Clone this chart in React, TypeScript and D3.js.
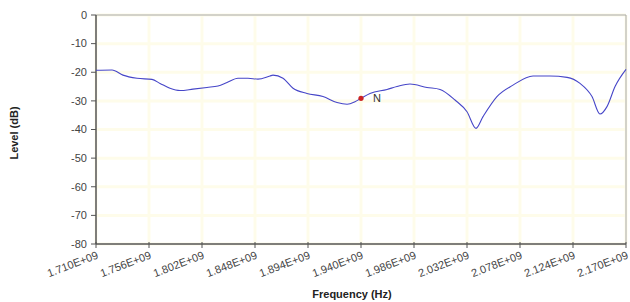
import React from "react";
import * as d3 from "d3";

const freqGHz = [
  1.7100, 1.7239, 1.7334, 1.7456, 1.7586, 1.7656, 1.7742, 1.7829, 1.7942, 1.8063,
  1.8159, 1.8237, 1.8332, 1.8419, 1.8506, 1.8610, 1.8636, 1.8723, 1.8810, 1.8931,
  1.9070, 1.9192, 1.9279, 1.9348, 1.9400, 1.9478, 1.9626, 1.9712, 1.9825, 1.9973,
  2.0086, 2.0216, 2.0320, 2.0398, 2.0459, 2.0580, 2.0719, 2.0893, 2.1040, 2.1188,
  2.1301, 2.1405, 2.1474, 2.1535, 2.1605, 2.1700,
];
const levelDb = [
  -19.3, -19.2, -21.0, -22.1, -22.5, -23.9, -25.6, -26.4, -25.9, -25.3,
  -24.8, -23.6, -22.1, -22.1, -22.4, -21.3, -21.0, -22.1, -25.6, -27.4,
  -28.5, -30.6, -31.2, -30.3, -29.1, -27.4, -26.0, -25.0, -24.1, -25.3,
  -26.0, -29.7, -33.8, -39.6, -35.5, -28.5, -24.5, -21.3, -21.3, -21.8,
  -23.9, -28.5, -34.6, -32.0, -25.0, -19.0,
];
const xTickLabels = [
  "1.710E+09", "1.756E+09", "1.802E+09", "1.848E+09", "1.894E+09", "1.940E+09",
  "1.986E+09", "2.032E+09", "2.078E+09", "2.124E+09", "2.170E+09",
];
const yTicks = [0, -10, -20, -30, -40, -50, -60, -70, -80];
const markerFreq = [1.94];
const markerLevel = [-29.1];
const markerLabel = ["N"];

const W = 630, H = 302;
const L = 96, R = 626, T = 15, B = 244;

export default function App() {
  const x = d3.scaleLinear().domain([1.71, 2.17]).range([L, R]);
  const y = d3.scaleLinear().domain([-80, 0]).range([B, T]);
  const xTicks = xTickLabels.map((s) => parseFloat(s) / 1e9);
  const pts = freqGHz.map((f, i) => [f, levelDb[i]] as [number, number]);
  const line = d3
    .line<[number, number]>()
    .x((d) => x(d[0]))
    .y((d) => y(d[1]))
    .curve(d3.curveMonotoneX);
  const font = "Arial, 'Liberation Sans', sans-serif";
  return (
    <svg
      width={W}
      height={H}
      style={{ position: "absolute", left: 0, top: 0, background: "#fff" }}
      fontFamily={font}
    >
      {/* grid */}
      {xTicks.map((t, i) => (
        <line key={"gx" + i} x1={x(t)} x2={x(t)} y1={T} y2={B} stroke="#fefcea" strokeWidth={3} />
      ))}
      {yTicks.map((t, i) => (
        <line key={"gy" + i} x1={L} x2={R} y1={y(t)} y2={y(t)} stroke="#fefcea" strokeWidth={3} />
      ))}
      {/* frame */}
      <line x1={L} x2={R} y1={T} y2={T} stroke="#a8a8a8" strokeWidth={1} />
      <line x1={R} x2={R} y1={T} y2={B} stroke="#a8a8a8" strokeWidth={1} />
      {/* axes */}
      <line x1={L} x2={L} y1={T} y2={B} stroke="#555" strokeWidth={1.5} />
      <line x1={L} x2={R} y1={B} y2={B} stroke="#555" strokeWidth={1.5} />
      {yTicks.map((t, i) => (
        <g key={"yt" + i}>
          <line x1={L - 5} x2={L} y1={y(t)} y2={y(t)} stroke="#555" strokeWidth={1} />
          <text x={L - 9} y={y(t)} dy="0.35em" textAnchor="end" fontSize={11} fill="#444">
            {t}
          </text>
        </g>
      ))}
      {xTicks.map((t, i) => (
        <g key={"xt" + i}>
          <line x1={x(t)} x2={x(t)} y1={B - 2} y2={B + 4} stroke="#555" strokeWidth={1} />
          <text
            transform={`translate(${x(t) + 3},${B + 14}) rotate(-21)`}
            textAnchor="end"
            fontSize={11}
            fill="#444"
          >
            {xTickLabels[i]}
          </text>
        </g>
      ))}
      {/* curve */}
      <path d={line(pts) || ""} fill="none" stroke="#4646c8" strokeWidth={1.1} />
      {/* marker */}
      {markerFreq.map((f, i) => (
        <g key={"m" + i}>
          <circle cx={x(f)} cy={y(markerLevel[i])} r={2.6} fill="#cc2222" />
          <text x={x(f) + 12} y={y(markerLevel[i]) + 4} fontSize={11} fill="#333">
            {markerLabel[i]}
          </text>
        </g>
      ))}
      {/* titles */}
      <text x={352} y={298} textAnchor="middle" fontSize={11} fontWeight="bold" fill="#222">
        Frequency (Hz)
      </text>
      <text
        transform="translate(18,133) rotate(-90)"
        textAnchor="middle"
        fontSize={11}
        fontWeight="bold"
        fill="#222"
      >
        Level (dB)
      </text>
    </svg>
  );
}
